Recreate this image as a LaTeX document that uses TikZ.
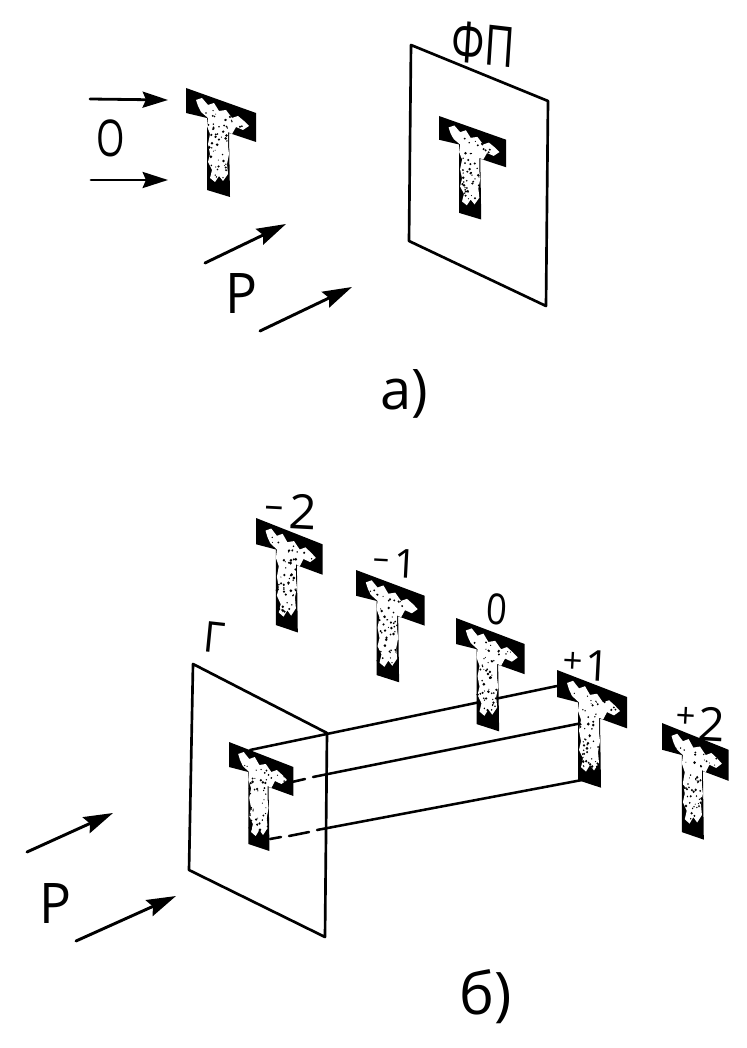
\documentclass[tikz,border=0pt]{standalone}
\usepackage{fontspec}
\setmainfont{Open Sans}
\usetikzlibrary{arrows.meta}
\tikzset{
  plate/.style={draw=black,line width=2pt,line join=round},
  beam/.style={draw=black,line width=1.9pt,line cap=round},
  wave/.style={draw=black,line width=2.2pt,line cap=round,-{Stealth[length=22pt,width=13pt,inset=3pt]}},
  owave/.style={draw=black,line width=2.1pt,line cap=round,-{Stealth[length=19pt,width=12pt,inset=2.5pt]}},
  lettering/.style={inner sep=0pt,text=black}
}
\newcommand{\tee}[4]{%
  \begin{scope}[shift={(#1,#2)},xscale=#3,yscale=#4]
    \fill[black] (0,0)--(70,25)--(70,54)--(43,45)--(44,109)--(21,102)--(21,30)--(0,25)--cycle;
    \fill[white] (10,12)--(16,10)--(22,17)--(28,15)--(33,23)--(40,22)--(46,30)--(52,28)--(58,33)--(63,38)--(57,42)--(50,39)--(46,46)--(42,44)--(42,58)--(43,66)--(41,76)--(42,86)--(37,93)--(33,88)--(29,94)--(24,90)--(26,82)--(22,74)--(24,66)--(22,56)--(24,46)--(21,38)--(22,30)--(15,24)--(12,18)--cycle;
    \pgfmathsetseed{#1+#2}
    \foreach \k in {1,...,42}{
      \pgfmathsetmacro{\ux}{22+20*rnd}
      \pgfmathsetmacro{\uy}{36+54*rnd}
      \pgfmathsetmacro{\ur}{0.5+1.0*rnd}
      \fill[black] (\ux,\uy) circle (\ur);
    }
    \foreach \k in {1,...,12}{
      \pgfmathsetmacro{\ux}{14+46*rnd}
      \pgfmathsetmacro{\uy}{0.36*\ux+12+8*rnd}
      \pgfmathsetmacro{\ur}{0.5+0.7*rnd}
      \fill[black] (\ux,\uy) circle (\ur);
    }
  \end{scope}}
\newcommand{\lbl}[6]{\node[lettering,xscale=#5,rotate=#6] at (#1,#2) {\fontsize{#4}{#4}\selectfont #3};}
\newcommand{\up}[3]{\raisebox{#1}{\fontsize{#2}{#2}\selectfont #3}}
\begin{document}
\begin{tikzpicture}[x=0.75pt,y=-0.75pt]
\useasboundingbox[fill=white] (0,0) rectangle (746,1048);
% panel a
\draw[plate] (411,45)--(548,101)--(546,306)--(409,241)--cycle;
\tee{186}{88}{1}{1}
\tee{439}{116}{0.96}{0.95}
\coordinate (oa) at (90,99);  \coordinate (ob) at (168,100);
\coordinate (oc) at (91,180); \coordinate (od) at (168,180);
\coordinate (pa) at (205,263); \coordinate (pb) at (286,224);
\coordinate (pc) at (260,331); \coordinate (pd) at (352,287);
\draw[owave] (oa)--(ob);
\draw[owave] (oc)--(od);
\draw[wave] (pa)--(pb);
\draw[wave] (pc)--(pd);
\lbl{111}{138}{О}{38}{0.72}{0}
\lbl{242}{294}{Р}{42}{0.95}{0}
\lbl{483}{44}{ФП}{42}{0.74}{-5}
\lbl{404}{394}{а)}{42}{1}{0}
% panel b
\draw[plate] (193,664)--(327,733)--(325,937)--(189,870)--cycle;
\coordinate (c1a) at (250,750); \coordinate (c1b) at (557,686);
\coordinate (c2a) at (292,782); \coordinate (c2b) at (305,779);
\coordinate (c2c) at (313,777); \coordinate (c2d) at (582,723);
\coordinate (c3a) at (270,839); \coordinate (c3b) at (281,837);
\coordinate (c3c) at (289,836); \coordinate (c3d) at (309,832);
\coordinate (c3e) at (317,830); \coordinate (c3f) at (582,780);
\draw[beam] (c1a)--(c1b);
\draw[beam] (c2a)--(c2b);
\draw[beam] (c2c)--(c2d);
\draw[beam] (c3a)--(c3b);
\draw[beam] (c3c)--(c3d);
\draw[beam] (c3e)--(c3f);
\tee{256}{518}{0.95}{1.05}
\tee{356}{570}{0.98}{1.03}
\tee{456}{618}{0.98}{1.04}
\tee{557}{670}{1}{1.08}
\tee{662}{723}{0.95}{1.07}
\tee{229}{742}{0.92}{1.0}
\coordinate (qa) at (27,852); \coordinate (qb) at (113,813);
\coordinate (qc) at (76,941); \coordinate (qd) at (176,896);
\draw[wave] (qa)--(qb);
\draw[wave] (qc)--(qd);
\lbl{56}{904}{Р}{42}{0.95}{0}
\lbl{214}{638}{Г}{32}{0.95}{-6}
\lbl{291}{511}{\up{7pt}{28}{–}\kern4pt 2}{36}{1}{-3}
\lbl{395}{563}{\up{6pt}{24}{–}\kern4pt 1}{30}{1}{-3}
\lbl{497}{609}{0}{32}{0.85}{-5}
\lbl{586}{665}{\up{5pt}{26}{+}\kern2pt 1}{32}{1}{-3}
\lbl{700}{724}{\up{9pt}{26}{+}\kern2pt 2}{35}{1}{-3}
\lbl{486}{997}{б)}{44}{1}{0}
\end{tikzpicture}
\end{document}
